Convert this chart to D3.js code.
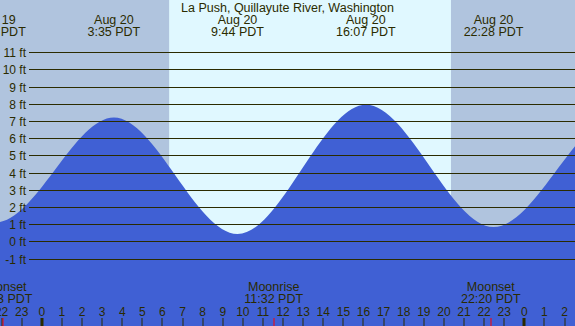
<!DOCTYPE html>
<html>
<head>
<meta charset="utf-8">
<script src="https://cdn.jsdelivr.net/npm/d3@7"></script>
<style>
  body { margin: 0; background: #fff; }
  svg { display: block; font-family: "Liberation Sans", Arial, sans-serif; font-size: 12.5px; }
  .ylab, .hlab { font-size: 12px; }
</style>
</head>
<body>
<script>
var width = 575,
  height = 326;

var title = "La Push, Quillayute River, Washington";

// tide extremes (day offset from Aug 20, clock time, height in ft)
var tideDays = ["Aug 19", "Aug 19", "Aug 20", "Aug 20", "Aug 20", "Aug 20", "Aug 21", "Aug 21"];
var tideOffset = [-1, -1, 0, 0, 0, 0, 1, 1];
var tideClock = ["15:20", "21:43", "3:35", "9:44", "16:07", "22:28", "4:43", "10:55"];
var tideFeet = [7.9, 1.1, 7.2, 0.42, 7.95, 0.83, 7.4, 0.3];

// moon events
var moonNames = ["Moonset", "Moonrise", "Moonset"];
var moonOffset = [-1, 0, 0];
var moonClock = ["22:03", "11:32", "22:20"];

// sun
var sunrise = "6:20",
  sunset = "20:21";

var yTicks = [-1, 0, 1, 2, 3, 4, 5, 6, 7, 8, 9, 10, 11];
var hourTicks = d3.range(-2, 27);

function toHours(clock, off) {
  var p = clock.split(":");
  return +p[0] + +p[1] / 60 + 24 * off;
}

var ink = "#2b2b00";

var x = d3.scaleLinear().domain([-2.08, 26.52]).range([0, width]);
var y = d3.scaleLinear().domain([-1, 11]).range([258.5, 52.3]);

var svg = d3
  .select("body")
  .append("svg")
  .attr("width", width)
  .attr("height", height);

// night / day background
svg.append("rect")
  .attr("width", width)
  .attr("height", height)
  .attr("fill", "#b0c4de");

svg.append("rect")
  .attr("x", x(toHours(sunrise, 0)))
  .attr("width", x(toHours(sunset, 0)) - x(toHours(sunrise, 0)))
  .attr("height", height)
  .attr("fill", "#e0f8ff");

// tide area
var tide = tideFeet.map(function(v, i) {
  return { h: toHours(tideClock[i], tideOffset[i]), v: v, day: tideDays[i], clock: tideClock[i] };
});

var area = d3
  .area()
  .x(function(d) { return x(d.h); })
  .y0(height)
  .y1(function(d) { return y(d.v); })
  .curve(d3.curveMonotoneX);

svg.append("path")
  .datum(tide)
  .attr("d", area)
  .attr("fill", "#4060d4");

// horizontal ft lines
svg.selectAll(".grid")
  .data(yTicks)
  .enter()
  .append("line")
  .attr("x1", 29)
  .attr("x2", width)
  .attr("y1", function(d) { return Math.round(y(d)) + 0.5; })
  .attr("y2", function(d) { return Math.round(y(d)) + 0.5; })
  .attr("stroke", ink)
  .attr("stroke-width", 1.2);

svg.selectAll(".ylab")
  .data(yTicks)
  .enter()
  .append("text")
  .attr("class", "ylab")
  .attr("x", 26)
  .attr("y", function(d) { return Math.round(y(d)) + 4.8; })
  .attr("text-anchor", "end")
  .attr("fill", ink)
  .text(function(d) { return d + " ft"; });

// title
svg.append("text")
  .attr("x", width / 2)
  .attr("y", 12)
  .attr("text-anchor", "middle")
  .attr("fill", ink)
  .text(title);

// tide time labels at top (only those near the visible range)
var visible = function(d) { return x(d.h) > -40 && x(d.h) < width + 40; };

var tl = svg.selectAll(".tl")
  .data(tide.filter(visible))
  .enter()
  .append("text")
  .attr("text-anchor", "middle")
  .attr("fill", ink);
tl.append("tspan")
  .attr("x", function(d) { return x(d.h); })
  .attr("y", 24)
  .text(function(d) { return d.day; });
tl.append("tspan")
  .attr("x", function(d) { return x(d.h); })
  .attr("y", 36)
  .text(function(d) { return d.clock + " PDT"; });

// hour ticks and labels
svg.selectAll(".tick")
  .data(hourTicks)
  .enter()
  .append("rect")
  .attr("x", function(d) { return d % 24 === 0 ? Math.round(x(d)) - 1.5 : Math.round(x(d)) - 0.5; })
  .attr("y", 318)
  .attr("width", function(d) { return d % 24 === 0 ? 3 : 1; })
  .attr("height", 8)
  .attr("fill", ink);

svg.selectAll(".hlab")
  .data(hourTicks)
  .enter()
  .append("text")
  .attr("class", "hlab")
  .attr("x", function(d) { return x(d); })
  .attr("y", 316)
  .attr("text-anchor", "middle")
  .attr("fill", ink)
  .text(function(d) { return (d + 24) % 24; });

// moon events
var moon = moonNames.map(function(n, i) {
  return { name: n, clock: moonClock[i], h: toHours(moonClock[i], moonOffset[i]) };
});

svg.selectAll(".moontick")
  .data(moon)
  .enter()
  .append("rect")
  .attr("x", function(d) { return Math.round(x(d.h)) - 0.5; })
  .attr("y", 318)
  .attr("width", 1)
  .attr("height", 8)
  .attr("fill", "#ff0000");

var ml = svg.selectAll(".ml")
  .data(moon)
  .enter()
  .append("text")
  .attr("text-anchor", "middle")
  .attr("fill", ink);
ml.append("tspan")
  .attr("x", function(d) { return x(d.h); })
  .attr("y", 291)
  .text(function(d) { return d.name; });
ml.append("tspan")
  .attr("x", function(d) { return x(d.h); })
  .attr("y", 303)
  .text(function(d) { return d.clock + " PDT"; });
</script>
</body>
</html>
